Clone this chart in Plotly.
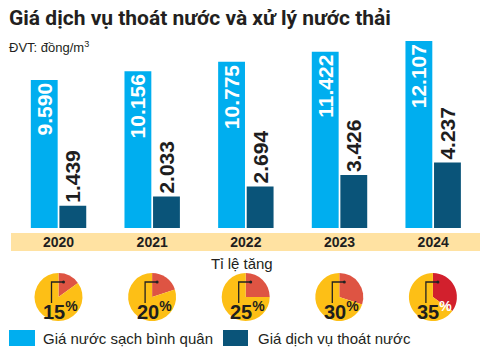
import plotly.graph_objects as go

years = ["2020", "2021", "2022", "2023", "2024"]
clean_water = [9590, 10156, 10775, 11422, 12107]
drainage = [1439, 2033, 2694, 3426, 4237]
rates = [15, 20, 25, 30, 35]

W, H = 480, 353
def px(x): return x / W
def py(y): return 1 - y / H

def fmt(v):
    return f"{v:,}".replace(",", ".")

LIGHT = "#00AEEF"
DARK = "#0A5479"
BAND = "#FFE2A2"
YELLOW = "#FDBF16"
RED = "#DE5443"
RED2 = "#D2202D"
TXT = "#1e1e1e"

fig = go.Figure()
fig.add_trace(go.Bar(
    x=years, y=clean_water, marker=dict(color=LIGHT, line=dict(width=0)),
    text=[fmt(v) for v in clean_water], textposition="inside", textangle=-90,
    insidetextanchor="end", constraintext="none",
    textfont=dict(family="Liberation Sans", size=21, color="white", weight="bold"),
    hoverinfo="skip", showlegend=False, name="Giá nước sạch bình quân"))
fig.add_trace(go.Bar(
    x=years, y=drainage, marker=dict(color=DARK, line=dict(width=0)),
    text=[fmt(v) for v in drainage], textposition="outside", textangle=-90,
    constraintext="none", cliponaxis=False,
    textfont=dict(family="Liberation Sans", size=21, color=TXT, weight="bold"),
    hoverinfo="skip", showlegend=False, name="Giá dịch vụ thoát nước"))

# group centers in px
x0c, step = 58.5, 93.6
centers = [x0c + i * step for i in range(len(years))]
cy, r = 297, 24

shapes = []
annotations = []
for i, rate in enumerate(rates):
    cx = centers[i]
    red = RED2 if rate >= 35 else RED
    fig.add_trace(go.Pie(
        values=[rate, 100 - rate], sort=False, direction="clockwise", rotation=0,
        marker=dict(colors=[red, YELLOW], line=dict(width=0)),
        textinfo="none", hoverinfo="skip", showlegend=False,
        domain=dict(x=[px(cx - r), px(cx + r)], y=[py(cy + r), py(cy - r)])))
    # callout line
    shapes.append(dict(type="path", xref="paper", yref="paper",
                       path=f"M {px(cx+5)},{py(cy-15)} L {px(cx-7)},{py(cy-15)} L {px(cx-7)},{py(cy+6)}",
                       line=dict(color="#222", width=1.3)))
    shapes.append(dict(type="circle", xref="paper", yref="paper",
                       x0=px(cx+3.5), x1=px(cx+6.5), y0=py(cy-13.5), y1=py(cy-16.5),
                       fillcolor="#222", line=dict(width=0)))
    pct = "<span style='color:white'>%</span>" if rate >= 35 else "%"
    annotations.append(dict(xref="paper", yref="paper", x=px(cx + 2), y=py(cy + 13),
                            xanchor="center", yanchor="middle", showarrow=False,
                            text=f"<b>{rate}</b><b><sup>{pct}</sup></b>",
                            font=dict(family="Liberation Sans", size=20, color=TXT)))

# band under years
shapes.append(dict(type="rect", xref="paper", yref="paper", layer="below",
                   x0=px(11), x1=1, y0=py(251), y1=py(233),
                   fillcolor=BAND, line=dict(width=0)))
# legend squares
shapes.append(dict(type="rect", xref="paper", yref="paper",
                   x0=px(9), x1=px(35), y0=py(346), y1=py(330),
                   fillcolor=LIGHT, line=dict(width=0)))
shapes.append(dict(type="rect", xref="paper", yref="paper",
                   x0=px(223), x1=px(248), y0=py(346), y1=py(330),
                   fillcolor=DARK, line=dict(width=0)))

annotations += [
    dict(xref="paper", yref="paper", x=px(7), y=py(18), xanchor="left", yanchor="middle",
         showarrow=False, text="<b>Giá dịch vụ thoát nước và xử lý nước thải</b>",
         font=dict(family="Liberation Sans Narrow, Roboto", size=21, color="#231f20")),
    dict(xref="paper", yref="paper", x=px(7), y=py(47), xanchor="left", yanchor="middle",
         showarrow=False, text="ĐVT: đồng/m<sup>3</sup>",
         font=dict(family="Liberation Sans", size=13, color="#231f20")),
    dict(xref="paper", yref="paper", x=px(242), y=py(263), xanchor="center", yanchor="middle",
         showarrow=False, text="Tỉ lệ tăng",
         font=dict(family="Liberation Sans", size=15, color="#231f20")),
    dict(xref="paper", yref="paper", x=px(41), y=py(338), xanchor="left", yanchor="middle",
         showarrow=False, text="Giá nước sạch bình quân",
         font=dict(family="Liberation Sans", size=15, color="#231f20")),
    dict(xref="paper", yref="paper", x=px(256), y=py(338), xanchor="left", yanchor="middle",
         showarrow=False, text="Giá dịch vụ thoát nước",
         font=dict(family="Liberation Sans", size=15, color="#231f20")),
]

fig.update_layout(
    width=W, height=H, margin=dict(l=0, r=0, t=0, b=0),
    paper_bgcolor="white", plot_bgcolor="rgba(0,0,0,0)",
    barmode="group", bargap=0.39, bargroupgap=0.06,
    xaxis=dict(type="category", categoryorder="array", categoryarray=years,
               range=[-0.5, 4.5], domain=[px(11.7), 1], showgrid=False, zeroline=False,
               showline=False, ticks="", ticklabelstandoff=4,
               tickfont=dict(family="Liberation Sans", size=14, color=TXT, weight="bold")),
    yaxis=dict(range=[0, 12824], domain=[py(228), py(30)], visible=False),
    shapes=shapes, annotations=annotations,
)
fig.write_html("out.html")
